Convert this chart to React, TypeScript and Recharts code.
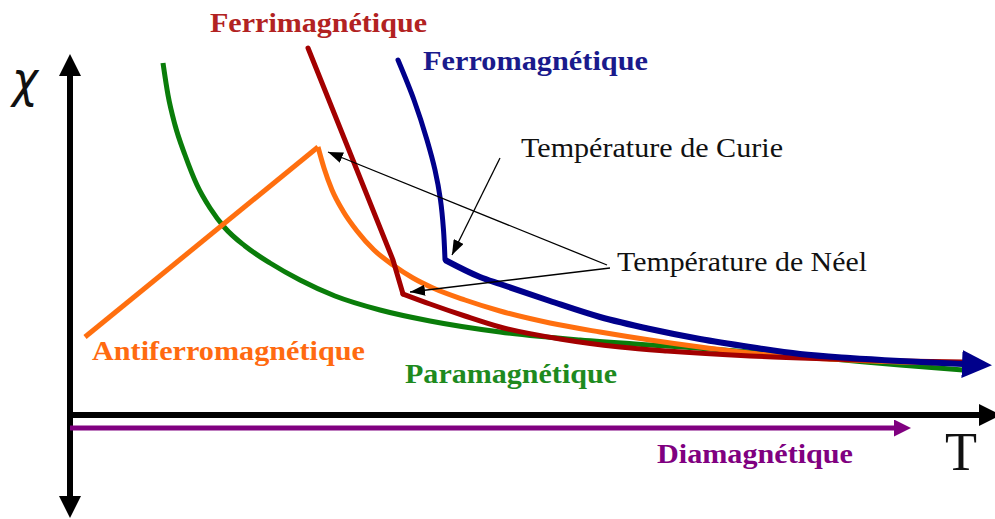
import React from 'react';
import { LineChart, Line, XAxis, YAxis, ReferenceDot } from 'recharts';

// Température T et susceptibilité χ (unités arbitraires)
const paraT = [93, 98, 105, 115, 127, 140, 155, 175, 200, 230, 265, 310, 360, 430, 510, 597, 680, 763, 830, 893];
const paraChi = [352, 320, 290, 260, 230, 207, 187, 169, 152, 135, 119, 105, 94, 83, 75, 69, 63, 56, 50, 45];

const antiRiseT = [15, 248];
const antiRiseChi = [78, 268];
const antiDecayT = [248, 254, 262, 273, 287, 304, 323, 343, 363, 395, 430, 480, 530, 580, 630, 690, 760, 830, 893];
const antiDecayChi = [268, 247, 225, 204, 184, 165, 150, 137, 127, 115, 104, 92, 83, 75, 68, 61, 56, 53, 52];

const ferriSteepT = [238, 323, 333];
const ferriSteepChi = [367, 155, 121];
const ferriTailT = [333, 360, 395, 430, 490, 550, 597, 680, 763, 830, 893];
const ferriTailChi = [121, 111, 99, 88, 76, 68, 64, 59, 56, 54, 53];

const ferroHighT = [328, 344, 357, 365, 370.5, 373.5, 375];
const ferroHighChi = [355, 315, 275, 245, 215, 185, 155];
const ferroTailT = [375, 410, 430, 480, 530, 580, 630, 680, 730, 780, 830, 893];
const ferroTailChi = [155, 138, 131, 114, 98, 86, 76, 68, 61, 57, 54, 51];

const diaT = [0, 825];
const diaChi = [-13, -13];

const vAxisT = [0, 0];
const vAxisChi = [-82, 340];
const hAxisT = [-3, 910];
const hAxisChi = [0, 0];

const curieT = [430, 382];
const curieChi = [257, 160];
const neelPeakT = [537, 258];
const neelPeakChi = [150, 263];
const neelKinkT = [540, 340];
const neelKinkChi = [147, 123];

const labelTexts = ['Ferrimagnétique', 'Ferromagnétique', 'Antiferromagnétique', 'Paramagnétique', 'Diamagnétique'];
const labelT = [140, 353, 22, 335, 587];
const labelChi = [383, 345, 55, 32, -48];
const labelLen = [217, 225, 273, 212, 196];
const labelColors = ['#B22222', '#1A1A8C', '#FF6A10', '#1E8A1E', '#800080'];

const noteTexts = ['Température de Curie', 'Température de Néel'];
const noteT = [451, 547];
const noteChi = [258, 144];
const noteLen = [262, 250];

const pts = (t: number[], c: number[]) => t.map((T, i) => ({ T, chi: c[i] }));

const SERIF = '"Liberation Serif", "DejaVu Serif", serif';

const textShape = (
  text: string,
  color: string,
  size: number,
  weight: string,
  len: number,
  family: string,
  style: string = 'normal'
) => (props: any) => (
  <text
    x={props.cx}
    y={props.cy}
    fill={color}
    fontSize={size}
    fontWeight={weight}
    fontStyle={style}
    fontFamily={family}
    textLength={len}
    lengthAdjust="spacingAndGlyphs"
  >
    {text}
  </text>
);

export default function App() {
  return (
    <div style={{ position: 'absolute', left: 0, top: 0, width: 995, height: 519, background: '#fff' }}>
      <svg width={0} height={0} style={{ position: 'absolute' }}>
        <defs>
          <marker id="axisHead" viewBox="0 0 22 22" refX={1} refY={11} markerWidth={22} markerHeight={22}
            markerUnits="userSpaceOnUse" orient="auto-start-reverse">
            <path d="M0,0 L22,11 L0,22 Z" fill="#000" />
          </marker>
          <marker id="ferroHead" viewBox="0 0 30 28" refX={1} refY={14} markerWidth={30} markerHeight={28}
            markerUnits="userSpaceOnUse" orient="auto">
            <path d="M0,0 L30,14 L0,28 Z" fill="#00008B" />
          </marker>
          <marker id="diaHead" viewBox="0 0 17 17" refX={1} refY={8.5} markerWidth={17} markerHeight={17}
            markerUnits="userSpaceOnUse" orient="auto">
            <path d="M0,0 L17,8.5 L0,17 Z" fill="#800080" />
          </marker>
          <marker id="noteHead" viewBox="0 0 15 11" refX={15} refY={5.5} markerWidth={15} markerHeight={11}
            markerUnits="userSpaceOnUse" orient="auto">
            <path d="M0,0 L15,5.5 L0,11 Z" fill="#000" />
          </marker>
        </defs>
      </svg>
      <LineChart width={995} height={519} margin={{ top: 0, right: 0, bottom: 0, left: 0 }}>
        <XAxis type="number" dataKey="T" domain={[-70, 925]} allowDataOverflow hide />
        <YAxis type="number" dataKey="chi" domain={[-104, 415]} allowDataOverflow hide width={0} />

        {/* axes */}
        <Line data={pts(vAxisT, vAxisChi)} dataKey="chi" type="linear" stroke="#000" strokeWidth={6}
          dot={false} activeDot={false} isAnimationActive={false} markerStart="url(#axisHead)" markerEnd="url(#axisHead)" />
        <Line data={pts(hAxisT, hAxisChi)} dataKey="chi" type="linear" stroke="#000" strokeWidth={6}
          dot={false} activeDot={false} isAnimationActive={false} markerEnd="url(#axisHead)" />

        {/* diamagnétique */}
        <Line data={pts(diaT, diaChi)} dataKey="chi" type="linear" stroke="#800080" strokeWidth={5}
          dot={false} activeDot={false} isAnimationActive={false} markerEnd="url(#diaHead)" />

        {/* paramagnétique */}
        <Line data={pts(paraT, paraChi)} dataKey="chi" type="monotoneX" stroke="#0A7D0A" strokeWidth={5}
          dot={false} activeDot={false} isAnimationActive={false} />

        {/* antiferromagnétique */}
        <Line data={pts(antiRiseT, antiRiseChi)} dataKey="chi" type="linear" stroke="#FF6F0F" strokeWidth={5}
          dot={false} activeDot={false} isAnimationActive={false} />
        <Line data={pts(antiDecayT, antiDecayChi)} dataKey="chi" type="monotoneX" stroke="#FF6F0F" strokeWidth={5}
          dot={false} activeDot={false} isAnimationActive={false} />

        {/* ferrimagnétique */}
        <Line data={pts(ferriSteepT, ferriSteepChi)} dataKey="chi" type="linear" stroke="#A30000" strokeWidth={5}
          strokeLinecap="round" dot={false} activeDot={false} isAnimationActive={false} />
        <Line data={pts(ferriTailT, ferriTailChi)} dataKey="chi" type="monotoneX" stroke="#A30000" strokeWidth={5}
          strokeLinecap="round" dot={false} activeDot={false} isAnimationActive={false} />

        {/* ferromagnétique */}
        <Line data={pts(ferroHighT, ferroHighChi)} dataKey="chi" type="monotoneY" stroke="#00008B" strokeWidth={5}
          strokeLinecap="round" dot={false} activeDot={false} isAnimationActive={false} />
        <Line data={pts(ferroTailT, ferroTailChi)} dataKey="chi" type="monotoneX" stroke="#00008B" strokeWidth={6}
          dot={false} activeDot={false} isAnimationActive={false} markerEnd="url(#ferroHead)" />

        {/* annotations */}
        <Line data={pts(curieT, curieChi)} dataKey="chi" type="linear" stroke="#000" strokeWidth={1.3}
          dot={false} activeDot={false} isAnimationActive={false} markerEnd="url(#noteHead)" />
        <Line data={pts(neelPeakT, neelPeakChi)} dataKey="chi" type="linear" stroke="#000" strokeWidth={1.3}
          dot={false} activeDot={false} isAnimationActive={false} markerEnd="url(#noteHead)" />
        <Line data={pts(neelKinkT, neelKinkChi)} dataKey="chi" type="linear" stroke="#000" strokeWidth={1.3}
          dot={false} activeDot={false} isAnimationActive={false} markerEnd="url(#noteHead)" />

        {labelTexts.map((txt, i) => (
          <ReferenceDot key={txt} x={labelT[i]} y={labelChi[i]} r={0}
            shape={textShape(txt, labelColors[i], 27, 'bold', labelLen[i], SERIF)} />
        ))}
        {noteTexts.map((txt, i) => (
          <ReferenceDot key={txt} x={noteT[i]} y={noteChi[i]} r={0}
            shape={textShape(txt, '#111', 28, 'normal', noteLen[i], SERIF)} />
        ))}
        <ReferenceDot x={-58} y={318} r={0}
          shape={textShape('χ', '#111', 50, 'normal', 26, '"DejaVu Sans", sans-serif', 'italic')} />
        <ReferenceDot x={875} y={-55} r={0}
          shape={textShape('T', '#111', 54, 'normal', 32, SERIF)} />
      </LineChart>
    </div>
  );
}
